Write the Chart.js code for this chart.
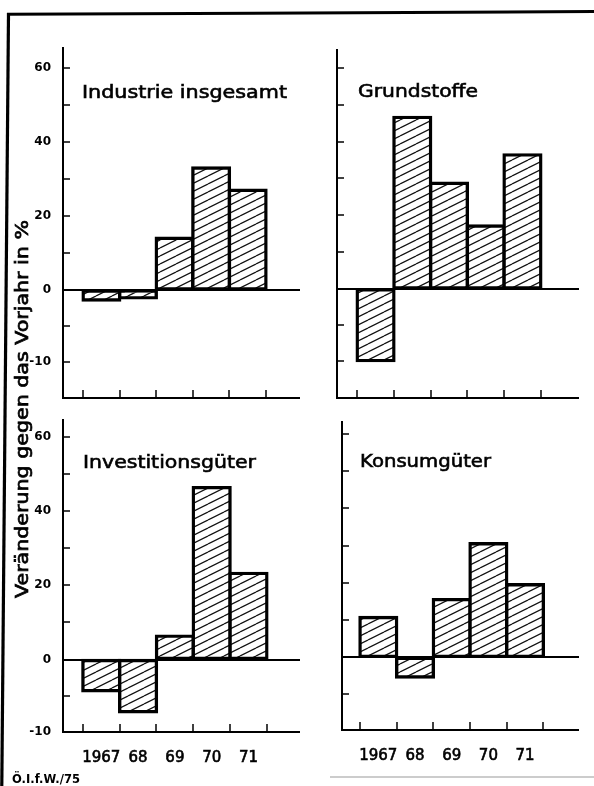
<!DOCTYPE html>
<html><head><meta charset="utf-8">
<script src="https://cdn.jsdelivr.net/npm/chart.js@4.4.1/dist/chart.umd.min.js"></script>
<style>
html,body{margin:0;padding:0;background:#fff;}
#page{position:relative;width:594px;height:786px;overflow:hidden;background:#fff;}
#page canvas{position:absolute;left:0;top:0;}
#overlay{position:absolute;left:0;top:0;}
</style></head><body>
<div id="page">
<canvas id="c1" width="594" height="786"></canvas>
<canvas id="c2" width="594" height="786"></canvas>
<canvas id="c3" width="594" height="786"></canvas>
<canvas id="c4" width="594" height="786"></canvas>
<svg id="overlay" width="594" height="786" xmlns="http://www.w3.org/2000/svg"></svg>
</div>
<script>
// ---- data ----
const years = ['1967', '68', '69', '70', '71'];
const industrieInsgesamt = [-1.4, -1.1, 14, 33, 27];
const grundstoffe = [-10, 46.6, 28.7, 17.1, 36.4];
const investitionsgueter = [-4.3, -7.2, 6.3, 46.3, 23.2];
const konsumgueter = [10.7, -2.7, 15.5, 30.5, 19.5];
const yTickValues = [-10, -5, 0, 10, 20, 30, 40, 50, 60];
const yTickLabels = ['-10', '0', '20', '40', '60'];
const panelTitles = ['Industrie insgesamt', 'Grundstoffe', 'Investitionsgüter', 'Konsumgüter'];
const yAxisTitle = 'Veränderung gegen das Vorjahr in %';
const sourceNote = 'Ö.I.f.W./75';

// ---- split linear scale: negative side drawn at a larger scale ----
const NEG_FACTOR = 1.95;
class SplitLinearScale extends Chart.LinearScale {
  static id = 'splitLinear';
  static defaults = {};
  _warp(v) { return v < 0 ? v * NEG_FACTOR : v; }
  _unwarp(w) { return w < 0 ? w / NEG_FACTOR : w; }
  getPixelForValue(value) {
    if (value === null || value === undefined || isNaN(value)) return NaN;
    const a = this._warp(this.min), b = this._warp(this.max);
    return this.getPixelForDecimal((this._warp(value) - a) / (b - a));
  }
  getValueForPixel(pixel) {
    const a = this._warp(this.min), b = this._warp(this.max);
    return this._unwarp(a + this.getDecimalForPixel(pixel) * (b - a));
  }
}
Chart.register(SplitLinearScale);

// ---- hatch pattern (opaque white ground) ----
function makeHatch() {
  const t = document.createElement('canvas');
  t.width = 16; t.height = 8;
  const c = t.getContext('2d');
  c.fillStyle = '#fff';
  c.fillRect(0, 0, 16, 8);
  c.strokeStyle = '#111';
  c.lineWidth = 1.25;
  for (let k = -1; k <= 1; k++) {
    c.beginPath();
    c.moveTo(0, 8 + k * 8);
    c.lineTo(16, 0 + k * 8);
    c.stroke();
  }
  return document.createElement('canvas').getContext('2d').createPattern(t, 'repeat');
}
const hatch = makeHatch();

// ---- panels (layout only) ----
const panels = [
  {id: 'c1', values: industrieInsgesamt, area: {left: 63, top: 48, right: 300, bottom: 398}, xr: [-1.05, 5.43], yr: [-15, 65.5], yLabels: true, xLabels: false},
  {id: 'c2', values: grundstoffe, area: {left: 337, top: 50, right: 579, bottom: 398}, xr: [-1.05, 5.54], yr: [-15.2, 64.9], yLabels: false, xLabels: false},
  {id: 'c3', values: investitionsgueter, area: {left: 63, top: 420, right: 300, bottom: 732}, xr: [-1.04, 5.4], yr: [-10, 64.5], yLabels: true, xLabels: true},
  {id: 'c4', values: konsumgueter, area: {left: 342, top: 422, right: 579, bottom: 730}, xr: [-0.99, 5.47], yr: [-10, 63.2], yLabels: false, xLabels: true}
];
const X_AXIS_BOX = 50;

panels.forEach(p => {
  const edges = years.map((_, i) => i - 0.5).concat([years.length - 0.5]);
  const unit = (p.area.right - p.area.left) / (p.xr[1] - p.xr[0]);
  new Chart(document.getElementById(p.id), {
    type: 'bar',
    data: {
      datasets: [{
        data: p.values.map((v, i) => ({x: i, y: v})),
        backgroundColor: hatch,
        borderColor: '#000',
        borderWidth: 3.4,
        borderSkipped: false,
        inflateAmount: 1.7,
        categoryPercentage: 1,
        barPercentage: 1
      }]
    },
    options: {
      responsive: false,
      animation: false,
      devicePixelRatio: 1,
      events: [],
      layout: {padding: {left: 0, top: p.area.top, right: 594 - p.area.right, bottom: 786 - p.area.bottom - X_AXIS_BOX}},
      plugins: {legend: {display: false}, tooltip: {enabled: false}, title: {display: false}},
      scales: {
        x: {
          type: 'linear', position: 'bottom', min: p.xr[0], max: p.xr[1], bounds: 'data', offset: false,
          afterBuildTicks: s => { s.ticks = edges.map(v => ({value: v})); },
          afterFit: s => { s.height = X_AXIS_BOX; },
          grid: {display: true, offset: false, drawOnChartArea: false, drawTicks: true, tickLength: -8, tickColor: '#000', tickWidth: 1.5, color: '#000', lineWidth: 0},
          border: {display: true, color: '#000', width: 2},
          ticks: {
            display: p.xLabels, autoSkip: false, maxRotation: 0, minRotation: 0,
            labelOffset: unit / 2, padding: 25, color: '#000',
            textStrokeColor: '#000', textStrokeWidth: 0.6,
            font: {family: 'DejaVu Sans', size: 15},
            callback: (v, i) => i < years.length ? years[i] : ''
          }
        },
        y: {
          type: 'splitLinear', position: 'left', min: p.yr[0], max: p.yr[1], bounds: 'data',
          afterBuildTicks: s => { s.ticks = yTickValues.map(v => ({value: v})); },
          afterFit: s => { s.width = p.area.left; },
          grid: {
            display: true, drawOnChartArea: true, drawTicks: true, tickLength: -7,
            color: c => (c.tick && c.tick.value === 0) ? '#000' : 'rgba(0,0,0,0)',
            lineWidth: c => (c.tick && c.tick.value === 0) ? 2 : 0,
            tickColor: '#000', tickWidth: 1.5
          },
          border: {display: true, color: '#000', width: 2},
          ticks: {
            display: p.yLabels, padding: 19, color: '#000',
            font: {family: 'DejaVu Sans', size: 12, weight: 'bold'},
            callback: v => yTickLabels.includes(String(v)) ? String(v) : ''
          }
        }
      }
    }
  });
});

// ---- overlay: frame and texts ----
const svg = document.getElementById('overlay');
const NS = 'http://www.w3.org/2000/svg';
function line(x1, y1, x2, y2, w, col) {
  const l = document.createElementNS(NS, 'line');
  l.setAttribute('x1', x1); l.setAttribute('y1', y1); l.setAttribute('x2', x2); l.setAttribute('y2', y2);
  l.setAttribute('stroke', col); l.setAttribute('stroke-width', w);
  svg.appendChild(l);
}
function text(str, x, y, size, weight, len, transform, strokeW) {
  const t = document.createElementNS(NS, 'text');
  t.setAttribute('x', x); t.setAttribute('y', y);
  t.setAttribute('font-family', 'DejaVu Sans');
  t.setAttribute('font-size', size);
  t.setAttribute('font-weight', weight);
  t.setAttribute('fill', '#000');
  if (strokeW) { t.setAttribute('stroke', '#000'); t.setAttribute('stroke-width', strokeW); }
  if (len) { t.setAttribute('textLength', len); t.setAttribute('lengthAdjust', 'spacingAndGlyphs'); }
  if (transform) t.setAttribute('transform', transform);
  t.textContent = str;
  svg.appendChild(t);
}
line(7, 14.3, 594, 11.6, 3, '#000');
line(8.5, 13, 1.8, 786, 3.2, '#000');
line(330, 777, 594, 777, 1.5, '#bbb');

text(panelTitles[0], 82, 98.3, 18, 'normal', 205, null, 0.6);
text(panelTitles[1], 358, 97.3, 18, 'normal', 120, null, 0.6);
text(panelTitles[2], 83, 467.7, 18, 'normal', 173, null, 0.6);
text(panelTitles[3], 360, 466.7, 18, 'normal', 131, null, 0.6);
text(yAxisTitle, 0, 0, 17.5, 'normal', 378, 'translate(28,598) rotate(-90)', 0.7);
text(sourceNote, 12, 782.5, 13, 'bold', 68);
</script>
</body></html>
